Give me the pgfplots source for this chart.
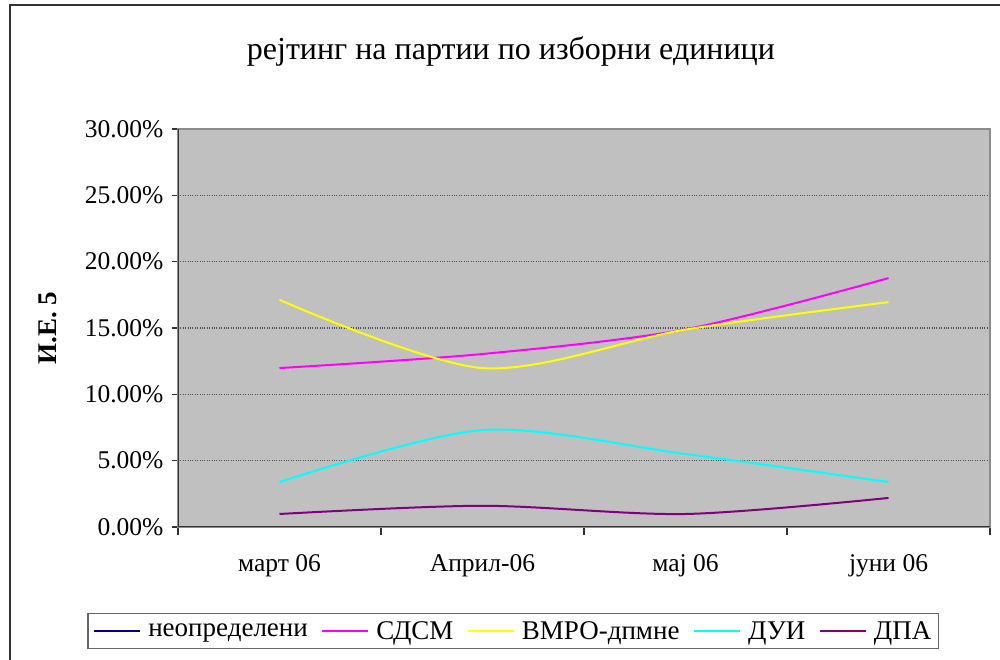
\documentclass[border=0pt]{standalone}
\usepackage{fontspec}
\setmainfont{Liberation Serif}
\usepackage{pgfplots}
\pgfplotsset{compat=1.18}
\definecolor{plotgray}{HTML}{C0C0C0}
\definecolor{gridgray}{HTML}{505050}
\definecolor{navy}{HTML}{000080}
\definecolor{mag}{HTML}{FF00FF}
\definecolor{yel}{HTML}{FFFF00}
\definecolor{cya}{HTML}{00FFFF}
\definecolor{purp}{HTML}{800080}
\begin{document}
\begin{tikzpicture}[x=1pt,y=1pt]
\useasboundingbox (0,0) rectangle (1000,660);
\draw[line width=2pt, black!80] (10,0) -- (10,655) -- (1000,655);
\begin{axis}[
  at={(178pt,133pt)}, anchor=south west,
  scale only axis, width=812pt, height=398pt,
  xmin=0.5, xmax=4.5, ymin=0, ymax=0.30,
  axis background/.style={fill=plotgray},
  axis line style={draw=gray!90, line width=1.5pt},
  xtick={1,2,3,4},
  xticklabels={март 06, Април-06, мај 06, јуни 06},
  minor xtick={0.5,1.5,2.5,3.5,4.5},
  ytick={0,0.05,0.10,0.15,0.20,0.25,0.30},
  yticklabels={0.00\%,5.00\%,10.00\%,15.00\%,20.00\%,25.00\%,30.00\%},
  tick pos=left, tick align=outside,
  major tick length=6pt, minor tick length=8pt,
  x tick style={draw=none},
  minor x tick style={draw=black!80, line width=1.2pt},
  y tick style={draw=black!80, line width=1.2pt},
  ymajorgrids, grid style={dotted, gridgray, line width=1.5pt},
  ticklabel style={font=\fontsize{25.5}{30}\selectfont},
  xticklabel style={yshift=-18pt},
  yticklabel style={xshift=-5pt},
  ylabel={\textbf{И.Е. 5}},
  every axis y label/.style={at={(axis description cs:-0.160,0.5)}, rotate=90, anchor=center, font=\fontsize{27}{31}\selectfont},
  title={рејтинг на партии по изборни единици},
  every axis title/.style={at={(axis description cs:0.41,1.195)}, anchor=center, font=\fontsize{32}{37}\selectfont},
  legend columns=5,
  legend style={at={(axis description cs:0.4126,-0.2613)}, anchor=center,
    draw=gray!80!black, line width=1.5pt, font=\fontsize{27}{31}\selectfont,
    inner xsep=5pt, inner ysep=5pt,
    nodes={inner xsep=2pt, inner ysep=3pt},
    /tikz/every odd column/.append style={column sep=5pt},
    /tikz/every even column/.append style={column sep=11pt}},
  legend image code/.code={\draw[#1, line width=2.5pt] (0pt,0pt) -- (46pt,0pt);},
  every axis plot/.append style={line width=2pt, smooth, tension=0.5},
]
\addplot[navy] coordinates {(1,0.40) (2,0.40) (3,0.40) (4,0.40)};
\addplot[mag] coordinates {(1,0.1198) (2,0.1304) (3,0.1490) (4,0.1876)};
\addplot[yel] coordinates {(1,0.1712) (2,0.1198) (3,0.1488) (4,0.1695)};
\addplot[cya] coordinates {(1,0.0339) (2,0.0731) (3,0.0550) (4,0.0339)};
\addplot[purp] coordinates {(1,0.0098) (2,0.0160) (3,0.0098) (4,0.0219)};
\legend{неопределени, СДСМ, ВМРО-дпмне, ДУИ, ДПА}
\draw[black!80, line width=1.8pt] (rel axis cs:0,1) -- (rel axis cs:0,0) -- (rel axis cs:1,0);
\end{axis}
\end{tikzpicture}
\end{document}
